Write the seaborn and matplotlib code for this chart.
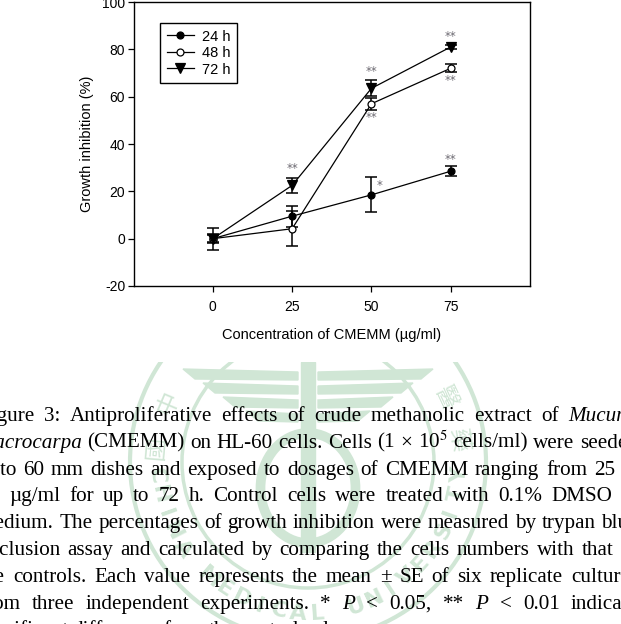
import numpy as np
import pandas as pd
import matplotlib
matplotlib.use("Agg")
import matplotlib.pyplot as plt
import seaborn as sns
from matplotlib.patches import Circle, Ellipse, Polygon, Rectangle

# data
conc = [0, 25, 50, 75]
inhib_24h = [0.0, 9.5, 18.5, 28.5]
inhib_48h = [0.0, 4.2, 57.0, 72.0]
inhib_72h = [0.0, 22.5, 63.5, 81.0]
se_24h = [4.6, 4.4, 7.4, 2.0]
se_48h = [1.5, 7.3, 2.5, 1.7]
se_72h = [2.0, 3.3, 3.4, 1.0]
series_names = ["24 h", "48 h", "72 h"]

# significance marks: (x, y, text)
stars = [(25, 29.5, "**"), (50, 70.5, "**"), (50, 51.0, "**"), (75, 85.3, "**"),
         (75, 67.0, "**"), (52.5, 22.3, "*"), (75, 33.3, "**")]

caption = [
    "Figure 3: Antiproliferative effects of crude methanolic extract of _Mucuna_",
    "_macrocarpa_ (CMEMM) on HL-60 cells. Cells (1 × 10$^{5}$ cells/ml) were seeded",
    "onto 60 mm dishes and exposed to dosages of CMEMM ranging from 25 to",
    "75 µg/ml for up to 72 h. Control cells were treated with 0.1% DMSO in",
    "medium. The percentages of growth inhibition were measured by trypan blue",
    "exclusion assay and calculated by comparing the cells numbers with that of",
    "the controls. Each value represents the mean ± SE of six replicate cultures",
    "from three independent experiments. * _P_ < 0.05, ** _P_ < 0.01 indicate",
    "significant difference from the control values.",
]

W, H = 621, 624
fig = plt.figure(figsize=(W / 100, H / 100), dpi=100)
plt.rcParams["mathtext.fontset"] = "stix"
plt.rcParams["axes.unicode_minus"] = False

# background layer in pixel coords (watermark + caption)
bg = fig.add_axes([0, 0, 1, 1], zorder=0)
bg.set_xlim(0, W)
bg.set_ylim(H, 0)
bg.axis("off")

green = "#d0e6d5"
clip = Rectangle((0, 362), W, H, transform=bg.transData)
cx, cy = 308, 462
arts_wm = []
arts_wm.append(bg.add_patch(Circle((cx, cy), 178, fill=False, ec=green, lw=3)))
arts_wm.append(bg.add_patch(Circle((cx, cy), 126, fill=False, ec=green, lw=2.5)))
arts_wm.append(bg.add_patch(Rectangle((cx - 7, 362), 14, 190, color=green)))
# wings: stacked stripes
for k, (yw, half) in enumerate([(372, 125), (386, 105), (400, 85), (414, 62)]):
    for sgn in (-1, 1):
        p = Polygon([(cx + sgn * 10, yw), (cx + sgn * half, yw - 3), (cx + sgn * (half - 12), yw + 7),
                     (cx + sgn * 10, yw + 8)], closed=True, color=green)
        arts_wm.append(bg.add_patch(p))
arts_wm.append(bg.add_patch(Ellipse((cx, 488), 95, 110, fill=False, ec=green, lw=7)))
for a in arts_wm:
    a.set_clip_path(clip)

r_txt = 152
for ch, phi in [("中", 203), ("國", 185), ("醫", 335), ("藥", 352)]:
    ph = np.deg2rad(phi)
    bg.text(cx + r_txt * np.cos(ph), cy + r_txt * np.sin(ph), ch, fontsize=17, color=green,
            family="Noto Sans CJK TC", ha="center", va="center", rotation=270 - phi, clip_on=True)
word = "CHINA MEDICAL UNIVERSITY"
for i, ch in enumerate(word):
    phi = 175 - i * (170 / (len(word) - 1))
    ph = np.deg2rad(phi)
    bg.text(cx + r_txt * np.cos(ph), cy + r_txt * np.sin(ph), ch, fontsize=16, color=green,
            weight="bold", ha="center", va="center", rotation=90 - phi)

# justified caption
renderer = fig.canvas.get_renderer()
x0, x1 = -21, 638
base0, dy = 421, 26.8
for li, line in enumerate(caption):
    words = line.split(" ")
    arts = []
    for w in words:
        ital = w.startswith("_")
        txt = w.replace("_", "")
        t = bg.text(0, base0 + li * dy, txt, fontsize=15.2, family="Liberation Serif",
                    style="italic" if ital else "normal", va="baseline", ha="left", color="black")
        arts.append(t)
    widths = [a.get_window_extent(renderer).width for a in arts]
    if li < len(caption) - 1:
        gap = (x1 - x0 - sum(widths)) / (len(arts) - 1)
    else:
        gap = 4.5
    x = x0
    for a, wd in zip(arts, widths):
        a.set_x(x)
        x += wd + gap

# chart
ax = fig.add_axes([133.5 / W, 1 - 286 / H, (530 - 133.5) / W, (286 - 2) / H], zorder=2)
ax.set_facecolor("white")
styles = [("o", "black", 5), ("o", "white", 5), ("v", "black", 7)]
for name, vals, err, (mk, fc, ms) in zip(series_names, [inhib_24h, inhib_48h, inhib_72h],
                                         [se_24h, se_48h, se_72h], styles):
    ax.errorbar(conc, vals, yerr=err, fmt="none", ecolor="black", elinewidth=1.1, capsize=4, capthick=1.1, zorder=1)
    sns.lineplot(x=conc, y=vals, ax=ax, color="black", lw=0.9, marker=mk, ms=ms,
                 mfc=fc, mec="black", mew=0.9, label=name, zorder=3)

for x, y, s in stars:
    ax.text(x, y, s, fontsize=8.5, color="#6d6a72", ha="center", va="center", family="DejaVu Sans")

ax.set_xlim(-25, 100)
ax.set_ylim(-20, 100)
ax.set_xticks(conc)
ax.set_yticks(range(-20, 101, 20))
ax.tick_params(direction="out", length=4, width=0.9, labelsize=10, pad=2)
ax.tick_params(axis="x", pad=6)
for sp in ax.spines.values():
    sp.set_linewidth(1.0)
ax.set_xlabel("Concentration of CMEMM (µg/ml)", fontsize=10.5, family="Liberation Sans", labelpad=10)
ax.set_ylabel("Growth inhibition (%)", fontsize=10.5, family="Liberation Sans", labelpad=6)
for lab in ax.get_xticklabels() + ax.get_yticklabels():
    lab.set_family("Liberation Sans")

leg = ax.legend(loc="upper left", bbox_to_anchor=(0.067, 0.926), borderaxespad=0, fancybox=False,
                edgecolor="black", framealpha=1, handlelength=1.9, handletextpad=0.55,
                borderpad=0.45, labelspacing=0.17, prop={"family": "Liberation Sans", "size": 10.5})
leg.get_frame().set_linewidth(1.0)

fig.savefig("out.png", dpi=100)
